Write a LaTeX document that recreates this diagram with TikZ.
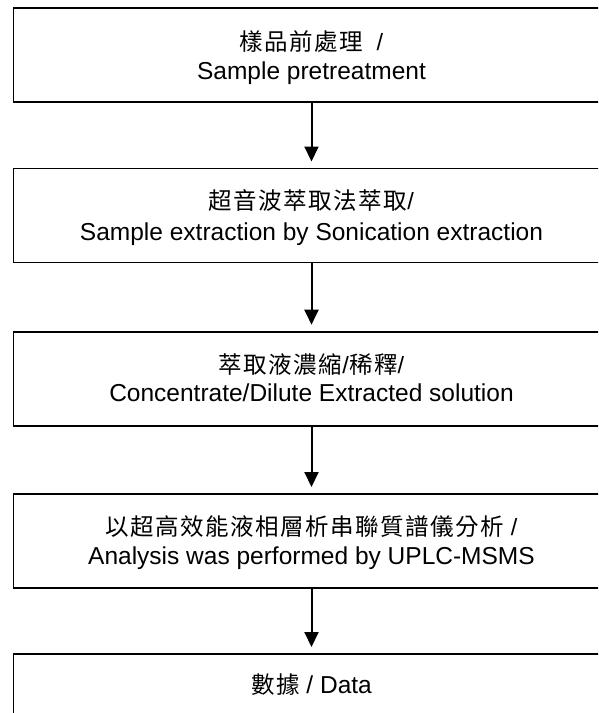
\documentclass[tikz,border=0pt]{standalone}
\usepackage{fontspec}
\setmainfont{Liberation Sans}
\newfontfamily\cjk[LetterSpace=6.4]{Noto Sans CJK TC}
\usetikzlibrary{arrows.meta}
\begin{document}
\begin{tikzpicture}[x=1pt,y=-1pt,
  box/.style={draw=black,line width=1.8pt,minimum width=596pt,minimum height=94pt,inner sep=0pt,outer sep=0pt},
  lat/.style={font=\fontsize{24.5}{29}\selectfont,inner sep=0pt,anchor=base},
  zh/.style={font=\fontsize{23.5}{29}\selectfont\cjk,inner sep=0pt,anchor=center},
  arr/.style={line width=2pt,-{Triangle[width=14pt,length=15pt]},shorten >=7pt}]
\useasboundingbox (0,0) rectangle (598,713);
\fill[white] (0,0) rectangle (598,713);
\clip (0,0) rectangle (598,713);
\node[box] (b1) at (311.5,55.3) {};
\node[box] (b2) at (311.5,215.5) {};
\node[box] (b3) at (311.5,378.7) {};
\node[box] (b4) at (311.5,541) {};
\node[box] (b5) at (311.5,701) {};
\node[zh] (z1) at ([yshift=-33pt]b1.north) {樣品前處理 {\normalfont\ /}};
\node[lat] (l1) at ([yshift=-71pt]b1.north) {Sample pretreatment};
\node[zh] (z2) at ([yshift=-32pt]b2.north) {超音波萃取法萃取{\normalfont /}};
\node[lat] (l2) at ([yshift=-72pt]b2.north) {Sample extraction by Sonication extraction};
\node[zh] (z3) at ([yshift=-33pt]b3.north) {萃取液濃縮{\normalfont /}稀釋{\normalfont /}};
\node[lat] (l3) at ([yshift=-70pt]b3.north) {Concentrate/Dilute Extracted solution};
\node[zh] (z4) at ([yshift=-33pt]b4.north) {以超高效能液相層析串聯質譜儀分析 {\normalfont /}};
\node[lat] (l4) at ([yshift=-70pt]b4.north) {Analysis was performed by UPLC-MSMS};
\node[lat] (l5) at ([yshift=-39.5pt]b5.north) {{\cjk\fontsize{23.5}{29}\selectfont 數據} / Data};
\draw[arr] (b1.south) -- (b2.north);
\draw[arr] (b2.south) -- (b3.north);
\draw[arr] (b3.south) -- (b4.north);
\draw[arr] (b4.south) -- (b5.north);
\end{tikzpicture}
\end{document}
